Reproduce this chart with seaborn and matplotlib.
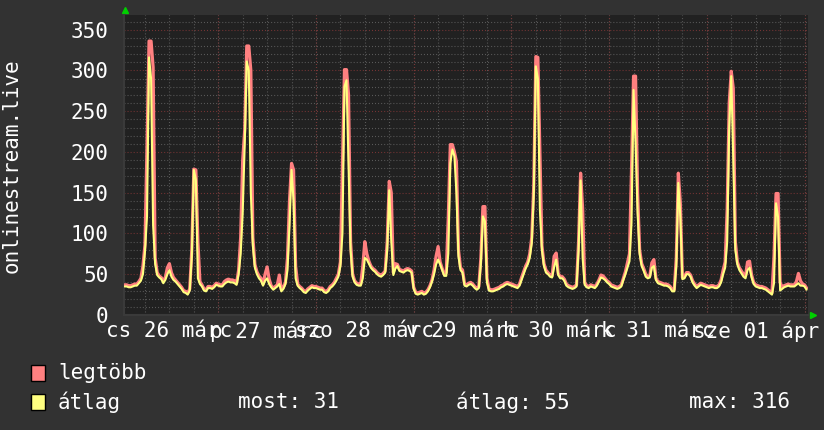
import numpy as np
import pandas as pd
import matplotlib
matplotlib.use("Agg")
import matplotlib.pyplot as plt
import seaborn as sns
from matplotlib.patches import Rectangle

# félórás minták, órában mérve márc 26 00:00-tól, első minta 01:00
start_hour = 1.0
step_hours = 0.5

# átlag (sárga), soronként 6 óra
atlag = [
    35, 35, 34, 34, 35, 36, 36, 39, 42, 50, 78, 121,
    316, 290, 110, 63, 49, 46, 44, 39, 43, 50, 55, 47,
    43, 41, 38, 35, 32, 28, 27, 25, 30, 72, 178, 166,
    45, 38, 35, 30, 29, 33, 33, 32, 34, 37, 36, 35,
    35, 38, 40, 41, 40, 40, 39, 37, 50, 75, 125, 210,
    311, 300, 150, 85, 58, 50, 45, 42, 36, 42, 45, 38,
    34, 31, 33, 35, 38, 29, 32, 38, 55, 110, 178, 140,
    45, 36, 33, 31, 28, 27, 30, 32, 34, 33, 33, 32,
    31, 31, 28, 27, 29, 33, 35, 38, 42, 47, 60, 100,
    280, 288, 186, 80, 47, 40, 37, 36, 36, 45, 70, 68,
    63, 58, 55, 53, 50, 48, 47, 49, 52, 80, 153, 90,
    49, 57, 60, 54, 53, 52, 54, 55, 54, 52, 32, 26,
    25, 26, 27, 25, 26, 29, 34, 41, 50, 62, 68, 62,
    55, 48, 48, 75, 186, 203, 195, 150, 72, 55, 52, 36,
    35, 37, 38, 36, 33, 31, 33, 63, 121, 115, 40, 30,
    29, 29, 30, 31, 32, 34, 35, 37, 38, 37, 36, 35,
    34, 33, 36, 43, 50, 57, 62, 70, 88, 150, 305, 290,
    129, 80, 60, 52, 50, 47, 46, 59, 68, 49, 45, 45,
    42, 36, 34, 33, 32, 33, 35, 80, 165, 70, 37, 34,
    33, 35, 34, 33, 36, 41, 46, 45, 43, 40, 38, 35,
    34, 33, 32, 33, 35, 43, 50, 58, 66, 113, 276, 210,
    125, 75, 60, 54, 47, 45, 46, 58, 60, 43, 39, 38,
    37, 36, 36, 35, 33, 29, 29, 60, 162, 120, 44, 45,
    50, 50, 47, 40, 36, 33, 35, 37, 36, 35, 34, 33,
    34, 34, 33, 33, 35, 40, 50, 58, 90, 230, 293, 190,
    80, 62, 55, 51, 47, 45, 55, 58, 46, 38, 35, 34,
    33, 33, 32, 31, 29, 27, 25, 39, 137, 120, 30, 32,
    34, 35, 36, 35, 35, 35, 37, 39, 36, 36, 35, 31,
]

# legtöbb (rózsaszín)
legtobb = [
    37, 37, 36, 36, 37, 38, 38, 41, 45, 60, 86, 207,
    336, 336, 304, 70, 52, 48, 46, 42, 46, 58, 63, 52,
    46, 43, 40, 37, 34, 30, 29, 27, 32, 80, 179, 178,
    90, 41, 37, 32, 31, 35, 35, 34, 36, 39, 38, 37,
    37, 41, 43, 44, 43, 43, 42, 39, 55, 95, 190, 227,
    330, 330, 300, 95, 62, 53, 48, 45, 38, 50, 59, 44,
    36, 33, 35, 37, 49, 31, 34, 40, 70, 140, 186, 178,
    60, 38, 35, 33, 30, 29, 32, 34, 36, 35, 35, 34,
    33, 33, 30, 29, 31, 35, 37, 40, 45, 50, 65, 186,
    301, 301, 270, 90, 50, 42, 39, 38, 38, 60, 90, 75,
    66, 60, 57, 55, 52, 50, 49, 51, 54, 90, 164, 150,
    52, 63, 62, 56, 55, 54, 56, 57, 56, 54, 34, 28,
    27, 28, 29, 27, 28, 31, 36, 43, 55, 72, 84, 65,
    57, 50, 52, 120, 209, 209, 200, 188, 80, 58, 55, 38,
    37, 39, 40, 38, 35, 33, 35, 70, 133, 133, 45, 32,
    31, 31, 32, 33, 34, 36, 37, 39, 40, 39, 38, 37,
    36, 35, 38, 46, 53, 60, 65, 75, 95, 160, 317, 316,
    200, 85, 63, 55, 52, 49, 48, 72, 76, 51, 47, 47,
    44, 38, 36, 35, 34, 35, 37, 90, 174, 130, 40, 36,
    35, 37, 36, 35, 38, 43, 49, 48, 45, 42, 40, 37,
    36, 35, 34, 35, 37, 45, 53, 64, 75, 178, 293, 293,
    150, 80, 63, 57, 50, 47, 48, 64, 68, 45, 41, 40,
    39, 38, 38, 37, 35, 31, 31, 70, 174, 137, 46, 47,
    52, 52, 49, 42, 38, 35, 37, 39, 38, 37, 36, 35,
    36, 36, 35, 35, 37, 43, 55, 65, 130, 260, 299, 278,
    90, 65, 58, 54, 50, 48, 65, 66, 49, 40, 37, 36,
    35, 35, 34, 33, 31, 29, 27, 72, 149, 149, 40, 34,
    36, 37, 38, 37, 37, 37, 41, 51, 42, 38, 37, 33,
]

day_labels = ["cs 26 márc", "p 27 márc", "szo 28 márc", "v 29 márc",
              "h 30 márc", "k 31 márc", "sze 01 ápr"]
y_ticks = [0, 50, 100, 150, 200, 250, 300, 350]
legend_stats = ["most: 31", "átlag: 55", "max: 316"]

BG = "#323232"
PLOT_BG = "#212121"
PINK = "#ff8080"
YELLOW = "#ffff80"
GRID_MINOR = "#5c5c5c"
GRID_MAJOR = "#7a3535"

hours = start_hour + step_hours * np.arange(len(atlag))
df = pd.DataFrame({"ora": hours, "átlag": atlag, "legtöbb": legtobb})

sns.set_theme(style="dark")
plt.rcParams["font.family"] = ["DejaVu Sans Mono", "DejaVu Sans"]
plt.rcParams["lines.scale_dashes"] = False

fig = plt.figure(figsize=(8.24, 4.30), dpi=100, facecolor=BG)
ax = fig.add_axes([124 / 824, 1 - 315 / 430, 684 / 824, 300 / 430])
ax.set_facecolor(PLOT_BG)

sns.lineplot(data=df, x="ora", y="legtöbb", color=PINK, linewidth=2.3, ax=ax, zorder=3)
sns.lineplot(data=df, x="ora", y="átlag", color=YELLOW, linewidth=1.5, ax=ax, zorder=4)

ax.set_xlim(0.85, 168.85)
ax.set_ylim(0, 368)

# rácsvonalak
dots = (0, (0.7, 1.5))
ax.set_yticks(y_ticks)
ax.set_yticks(np.arange(0, 370, 10), minor=True)
ax.set_xticks([12 + 24 * i for i in range(len(day_labels))])
ax.set_xticklabels(day_labels)
ax.set_xticks(np.arange(6, 169, 6), minor=True)
ax.yaxis.grid(True, which="minor", color=GRID_MINOR, linestyle=dots, linewidth=0.8)
ax.yaxis.grid(True, which="major", color=GRID_MAJOR, linestyle=dots, linewidth=0.8)
ax.xaxis.grid(True, which="both", color=GRID_MINOR, linestyle=dots, linewidth=0.8)
for d in range(1, 8):
    ax.axvline(24 * d, color=GRID_MAJOR, linestyle=dots, linewidth=0.8, zorder=1)
ax.set_axisbelow(True)

ax.tick_params(axis="both", which="both", length=0, labelsize=15, colors="white")
ax.tick_params(axis="y", pad=11)
ax.tick_params(axis="x", pad=4)
ax.set_xlabel("")
ax.set_ylabel("")

for s in ["top", "right"]:
    ax.spines[s].set_visible(False)
for s in ["left", "bottom"]:
    ax.spines[s].set_color("#3a3a3a")
    ax.spines[s].set_linewidth(1.5)

# zöld nyilak a tengelyek végén
ax.plot([0.002], [1.017], marker="^", color="#00d000", markersize=5,
        transform=ax.transAxes, clip_on=False)
ax.plot([1.008], [0.0], marker=">", color="#00d000", markersize=5,
        transform=ax.transAxes, clip_on=False)

fig.text(12 / 824, 1 - 166 / 430, "onlinestream.live", rotation=90,
         ha="center", va="center", fontsize=15, color="white")

# jelmagyarázat
for row_y, color, name in [(373, PINK, "legtöbb"), (402, YELLOW, "átlag")]:
    fig.add_artist(Rectangle((31 / 824, 1 - (row_y + 8) / 430), 14 / 824, 16 / 430,
                             transform=fig.transFigure, facecolor=color,
                             edgecolor="black", linewidth=1))
    fig.text(58 / 824, 1 - row_y / 430, name, ha="left", va="center",
             fontsize=15, color="white")
for x_px, txt in zip([238, 456, 689], legend_stats):
    fig.text(x_px / 824, 1 - 402 / 430, txt, ha="left", va="center",
             fontsize=15, color="white")

fig.savefig("out.png", dpi=100, facecolor=BG)
